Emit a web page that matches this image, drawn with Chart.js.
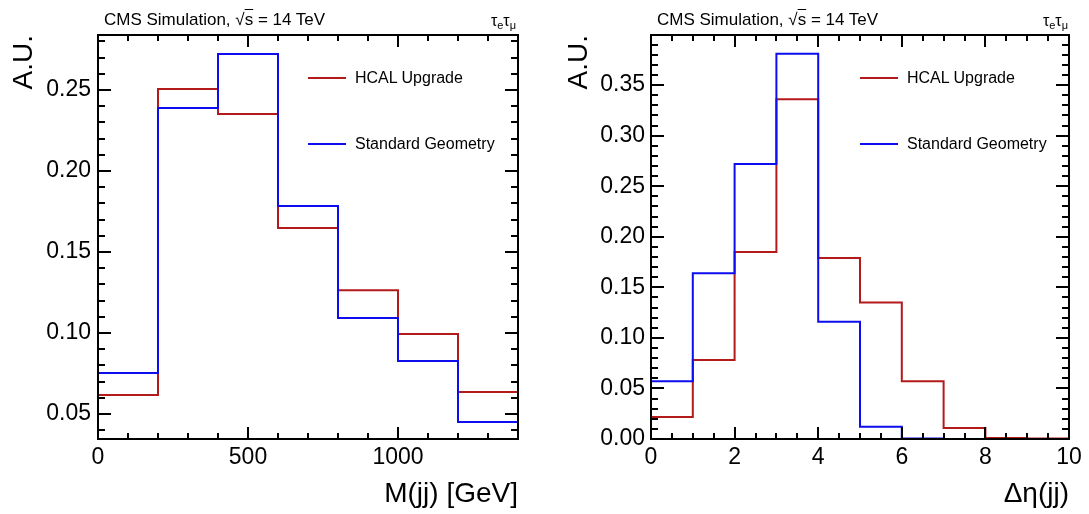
<!DOCTYPE html>
<html lang="en">
<head>
  <meta charset="UTF-8" />
  <title>CMS Simulation - M(jj) and Δη(jj)</title>
  <style>
    body {
      margin: 0;
      background: #fff;
      color: #000;
      font-family: 'Liberation Sans', Arial, sans-serif;
    }
    .page { position: relative; width: 1089px; height: 514px; overflow: hidden; }
    .panel { position: absolute; top: 0; height: 514px; }
    .txt { position: absolute; font-size: 17px; line-height: 1; white-space: nowrap; }
    .ov { text-decoration: overline; }
    .txt sub { font-size: 11px; vertical-align: -3px; line-height: 0; }
    .leg { position: absolute; height: 20px; display: flex; align-items: center; font-size: 16px; white-space: nowrap; }
    .leg span.line { display: inline-block; width: 38px; height: 2px; margin-right: 9px; }
  </style>
</head>
<body>
<div class="page">
  <div class="panel" style="left:0;width:545px">
    <canvas id="massChart"></canvas>
    <div class="txt" style="left:104px;top:11px">CMS Simulation, √<span class="ov">s</span> = 14 TeV</div>
    <div class="txt" style="right:29px;top:13px;font-size:16px">τ<sub>e</sub>τ<sub>μ</sub></div>
    <div class="leg" style="left:308px;top:68px"><span class="line" style="background:#b31b1b"></span>HCAL Upgrade</div>
    <div class="leg" style="left:308px;top:134px"><span class="line" style="background:#0d0df0"></span>Standard Geometry</div>
  </div>
  <div class="panel" style="left:545px;width:544px">
    <canvas id="detaChart"></canvas>
    <div class="txt" style="left:112px;top:11px">CMS Simulation, √<span class="ov">s</span> = 14 TeV</div>
    <div class="txt" style="right:21px;top:13px;font-size:16px">τ<sub>e</sub>τ<sub>μ</sub></div>
    <div class="leg" style="left:315px;top:68px"><span class="line" style="background:#b31b1b"></span>HCAL Upgrade</div>
    <div class="leg" style="left:315px;top:134px"><span class="line" style="background:#0d0df0"></span>Standard Geometry</div>
  </div>
</div>

<script src="https://cdn.jsdelivr.net/npm/chart.js"></script>
<script>
  // M(jj) histogram, 200 GeV bins
  const massEdges = [0, 200, 400, 600, 800, 1000, 1200, 1400];
  const massHcal  = [0.0617, 0.2506, 0.2352, 0.1648, 0.1265, 0.0994, 0.0636];
  const massStd   = [0.0753, 0.2389, 0.2722, 0.1784, 0.1093, 0.0827, 0.0451];
  const massXTicks = [0, 500, 1000];
  const massYTicks = [0.05, 0.10, 0.15, 0.20, 0.25];

  // delta eta(jj) histogram, unit bins
  const detaEdges = [0, 1, 2, 3, 4, 5, 6, 7, 8, 9, 10];
  const detaHcal  = [0.0218, 0.078, 0.185, 0.336, 0.179, 0.135, 0.057, 0.011, 0.001, 0.0005];
  const detaStd   = [0.057, 0.164, 0.272, 0.381, 0.116, 0.012, 0.0005, 0, 0, 0];
  const detaXTicks = [0, 2, 4, 6, 8, 10];
  const detaYTicks = [0.00, 0.05, 0.10, 0.15, 0.20, 0.25, 0.30, 0.35];

  const RED = '#b31b1b';
  const BLUE = '#0d0df0';

  Chart.defaults.font.family = "'Liberation Sans', Arial, sans-serif";
  Chart.defaults.color = '#000';

  // histogram outline: start at 0, one point per bin, close at the last edge
  function stepPoints(edges, values) {
    const pts = [{ x: edges[0], y: 0 }];
    values.forEach((v, i) => pts.push({ x: edges[i], y: v }));
    const last = edges[edges.length - 1];
    pts.push({ x: last, y: values[values.length - 1] });
    pts.push({ x: last, y: 0 });
    return pts;
  }

  // ROOT-like frame with inward ticks on all four sides
  const rootFrame = {
    id: 'rootFrame',
    afterDatasetsDraw(chart, args, opts) {
      const { ctx, chartArea: a, scales: { x, y } } = chart;
      ctx.save();
      ctx.strokeStyle = '#000';
      ctx.lineWidth = 2;
      ctx.beginPath();
      const xMark = (v, len) => {
        const px = Math.round(x.getPixelForValue(v));
        ctx.moveTo(px, a.bottom); ctx.lineTo(px, a.bottom - len);
        ctx.moveTo(px, a.top); ctx.lineTo(px, a.top + len);
      };
      const yMark = (v, len) => {
        const py = Math.round(y.getPixelForValue(v));
        ctx.moveTo(a.left, py); ctx.lineTo(a.left + len, py);
        ctx.moveTo(a.right, py); ctx.lineTo(a.right - len, py);
      };
      for (let i = Math.ceil(x.min / opts.xMinor - 1e-6); i * opts.xMinor <= x.max + 1e-9; i++) xMark(i * opts.xMinor, 6);
      for (let i = Math.ceil(y.min / opts.yMinor - 1e-6); i * opts.yMinor <= y.max + 1e-9; i++) yMark(i * opts.yMinor, 7);
      x.ticks.forEach(t => xMark(t.value, 12));
      y.ticks.forEach(t => yMark(t.value, 13));
      ctx.stroke();
      ctx.strokeRect(a.left, a.top, a.right - a.left, a.bottom - a.top);
      ctx.restore();
    }
  };

  function makeChart(id, c) {
    const tickFont = { size: 23 };
    const titleFont = { size: 28 };
    return new Chart(document.getElementById(id), {
      type: 'line',
      data: {
        datasets: [
          { label: 'HCAL Upgrade', data: stepPoints(c.edges, c.hcal), borderColor: RED, borderWidth: 2,
            stepped: true, pointRadius: 0, fill: false, order: 1 },
          { label: 'Standard Geometry', data: stepPoints(c.edges, c.std), borderColor: BLUE, borderWidth: 2,
            stepped: true, pointRadius: 0, fill: false, order: 0 }
        ]
      },
      options: {
        responsive: true,
        maintainAspectRatio: false,
        animation: false,
        layout: { padding: { top: 35, right: c.padRight, left: 0, bottom: 0 } },
        plugins: {
          legend: { display: false },
          tooltip: { enabled: false },
          rootFrame: { xMinor: c.xMinor, yMinor: 0.01 }
        },
        scales: {
          x: {
            type: 'linear', min: c.xMin, max: c.xMax,
            grid: { display: false, drawTicks: false }, border: { display: false },
            afterBuildTicks: s => { s.ticks = c.xTicks.map(v => ({ value: v })); },
            ticks: { autoSkip: false, maxRotation: 0, padding: 5, font: tickFont, color: '#000',
                     callback: v => String(v) },
            title: { display: true, text: c.xTitle, align: 'end', font: titleFont, color: '#000',
                     padding: { top: 0, bottom: 3 } },
            afterFit: s => { s.height = 75; }
          },
          y: {
            min: c.yMin, max: c.yMax,
            grid: { display: false, drawTicks: false }, border: { display: false },
            afterBuildTicks: s => { s.ticks = c.yTicks.map(v => ({ value: v })); },
            ticks: { autoSkip: false, padding: c.yLabelPad, font: tickFont, color: '#000',
                     callback: v => v.toFixed(2) },
            title: { display: true, text: 'A.U.', align: 'end', font: titleFont, color: '#000',
                     padding: { top: c.yTitlePad, bottom: 0 } },
            afterFit: s => { s.width = c.yWidth; }
          }
        }
      },
      plugins: [rootFrame]
    });
  }

  makeChart('massChart', {
    edges: massEdges, hcal: massHcal, std: massStd,
    xTicks: massXTicks, yTicks: massYTicks,
    xMin: 0, xMax: 1400, xMinor: 100,
    yMin: 0.0346, yMax: 0.284,
    xTitle: 'M(jj) [GeV]', yWidth: 98, padRight: 27, yTitlePad: 7, yLabelPad: 7
  });

  makeChart('detaChart', {
    edges: detaEdges, hcal: detaHcal, std: detaStd,
    xTicks: detaXTicks, yTicks: detaYTicks,
    xMin: 0, xMax: 10, xMinor: 0.5,
    yMin: 0, yMax: 0.3995,
    xTitle: 'Δη(jj)', yWidth: 106, padRight: 20, yTitlePad: 17, yLabelPad: 6
  });
</script>
</body>
</html>
